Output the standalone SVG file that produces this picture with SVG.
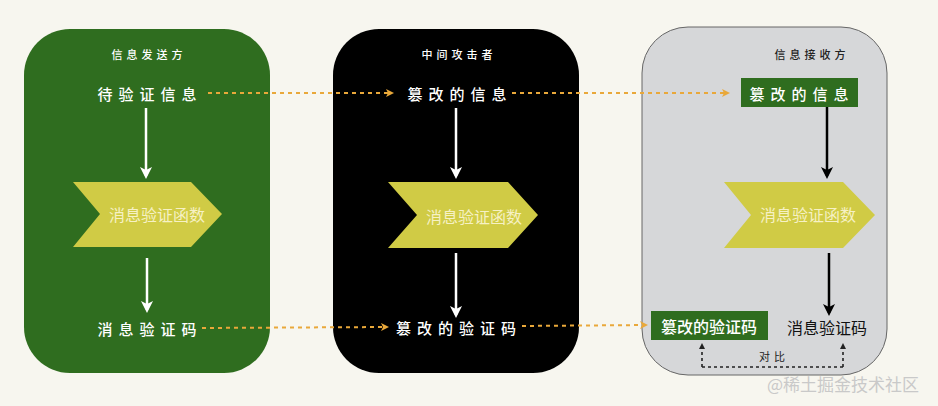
<svg xmlns="http://www.w3.org/2000/svg" width="938" height="406" viewBox="0 0 938 406">
<style>
text{font-family:"Noto Sans CJK SC","Noto Sans",sans-serif;text-anchor:middle;dominant-baseline:central}
.title{font-size:11px;letter-spacing:4px;fill:#fff;font-weight:500}
.lbl{font-size:15px;letter-spacing:6px;fill:#fff;font-weight:500}
.fn{font-size:16px;fill:#f6f1c4}
.chev{fill:#d0cb45}
.dash{stroke:#e9a83a;stroke-width:2;stroke-dasharray:4 4;fill:none}
.wa{stroke:#fff;stroke-width:2.5;fill:none}
.ba{stroke:#000;stroke-width:2.5;fill:none}
.dot{stroke:#222;stroke-width:1.6;stroke-dasharray:3 3;fill:none}
</style>
<defs>
<marker id="wh" markerWidth="12" markerHeight="12" refX="9" refY="6" orient="auto" markerUnits="userSpaceOnUse" viewBox="0 0 12 12"><path d="M0,0 L12,6 L0,12 L3,6 Z" fill="#fff"/></marker>
<marker id="bh" markerWidth="12" markerHeight="12" refX="9" refY="6" orient="auto" markerUnits="userSpaceOnUse" viewBox="0 0 12 12"><path d="M0,0 L12,6 L0,12 L3,6 Z" fill="#000"/></marker>
<marker id="oh" markerWidth="8" markerHeight="8" refX="6" refY="4" orient="auto" markerUnits="userSpaceOnUse" viewBox="0 0 8 8"><path d="M0,0 L8,4 L0,8 L2,4 Z" fill="#e9a83a"/></marker>
<marker id="dh" markerWidth="6" markerHeight="6" refX="3" refY="3" orient="auto" markerUnits="userSpaceOnUse" viewBox="0 0 6 6"><path d="M0,0 L6,3 L0,6 Z" fill="#222"/></marker>
</defs>
<rect width="938" height="406" fill="#f7f6ef"/>

<g id="sender">
<rect x="24" y="29" width="246" height="344" rx="46" fill="#2f6d1f"/>
<text class="title" x="149" y="54">信息发送方</text>
<text class="lbl" x="150" y="93">待验证信息</text>
<polygon class="chev" points="73,182 191,182 222,214 191,247 73,247 100,214"/>
<text class="fn" x="157" y="214">消息验证函数</text>
<text class="lbl" x="150" y="328">消息验证码</text>
</g>

<g id="attacker">
<rect x="333" y="29" width="246" height="344" rx="46" fill="#000"/>
<text class="title" x="459" y="54">中间攻击者</text>
<text class="lbl" x="460" y="93">篡改的信息</text>
<polygon class="chev" points="388,182 508,182 538,215 508,248 388,248 417,215"/>
<text class="fn" x="474" y="216">消息验证函数</text>
<text class="lbl" x="459" y="327">篡改的验证码</text>
</g>

<g id="receiver">
<rect x="642" y="27" width="245" height="348" rx="46" fill="#d6d7d9" stroke="#666" stroke-width="1"/>
<text class="title" x="812" y="54" style="fill:#222">信息接收方</text>
<rect x="741" y="78" width="117" height="29" fill="#2f6d1f"/>
<text class="lbl" x="802" y="93">篡改的信息</text>
<polygon class="chev" points="724,182 843,182 875,215 843,248 724,248 751,215"/>
<text class="fn" x="808" y="214">消息验证函数</text>
<rect x="651" y="311" width="117" height="29" fill="#2f6d1f"/>
<text x="709" y="326" style="font-size:16px;fill:#fff;font-weight:500">篡改的验证码</text>
<text x="827" y="327" style="font-size:16px;fill:#111">消息验证码</text>
<text x="774" y="356" style="font-size:11px;letter-spacing:4px;fill:#222">对比</text>
</g>

<g id="connectors">
<line class="wa" x1="146" y1="108" x2="146" y2="176" marker-end="url(#wh)"/>
<line class="wa" x1="147" y1="258" x2="147" y2="310" marker-end="url(#wh)"/>
<line class="wa" x1="456" y1="108" x2="456" y2="176" marker-end="url(#wh)"/>
<line class="wa" x1="456" y1="253" x2="456" y2="315" marker-end="url(#wh)"/>
<line class="ba" x1="827" y1="107" x2="827" y2="176" marker-end="url(#bh)"/>
<line class="ba" x1="829" y1="253" x2="829" y2="313" marker-end="url(#bh)"/>
<line class="dash" x1="208" y1="93" x2="392" y2="93" marker-end="url(#oh)"/>
<line class="dash" x1="512" y1="93" x2="728" y2="93" marker-end="url(#oh)"/>
<line class="dash" x1="202" y1="328" x2="387" y2="327" marker-end="url(#oh)"/>
<line class="dash" x1="522" y1="326" x2="646" y2="325" marker-end="url(#oh)"/>
<path class="dot" d="M702,367 L843,367"/>
<line class="dot" x1="702" y1="367" x2="702" y2="346" marker-end="url(#dh)"/>
<line class="dot" x1="843" y1="367" x2="843" y2="346" marker-end="url(#dh)"/>
</g>

<text x="843" y="383" style="font-size:17px;fill:#c9c9c9">@稀土掘金技术社区</text>
</svg>
